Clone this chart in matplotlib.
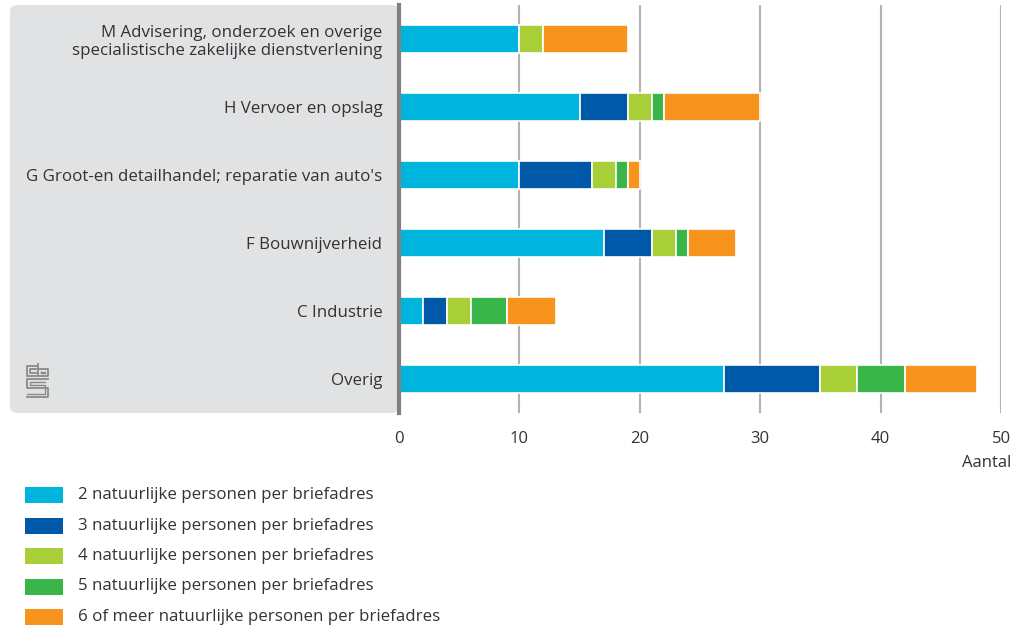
import matplotlib.pyplot as plt
from matplotlib.patches import FancyBboxPatch, Rectangle
import numpy as np

plt.rcParams['font.family'] = ['Open Sans', 'DejaVu Sans']

categories = ['M Advisering, onderzoek en overige\nspecialistische zakelijke dienstverlening',
              'H Vervoer en opslag',
              "G Groot-en detailhandel; reparatie van auto's",
              'F Bouwnijverheid',
              'C Industrie',
              'Overig']
series = ['2 natuurlijke personen per briefadres',
          '3 natuurlijke personen per briefadres',
          '4 natuurlijke personen per briefadres',
          '5 natuurlijke personen per briefadres',
          '6 of meer natuurlijke personen per briefadres']
p2 = [10, 15, 10, 17, 2, 27]
p3 = [0, 4, 6, 4, 2, 8]
p4 = [2, 2, 2, 2, 2, 3]
p5 = [0, 1, 1, 1, 3, 4]
p6 = [7, 8, 1, 4, 4, 6]
colors = ['#00b5dd', '#0058a8', '#a8cf38', '#3ab54a', '#f7941d']
xticks = [0, 10, 20, 30, 40, 50]

W, H = 1021, 628
fig = plt.figure(figsize=(W / 100, H / 100), dpi=100)

# grey label panel
panel = FancyBboxPatch((10 / W, 215 / H), (399 - 10) / W, (413 - 5) / H,
                       boxstyle='round,pad=0,rounding_size=0.009',
                       transform=fig.transFigure, facecolor='#e1e2e4',
                       edgecolor='none', zorder=-5)
fig.patches.append(panel)

ax = fig.add_axes([399 / W, 215 / H, (1001 - 399) / W, (413 - 5) / H])
ax.set_facecolor('none')

y = np.arange(len(categories))
left = np.zeros(len(categories))
for vals, c, name in zip([p2, p3, p4, p5, p6], colors, series):
    ax.barh(y, vals, left=left, height=0.4, color=c, edgecolor='white',
            linewidth=1.2, zorder=3, label=name)
    left += np.array(vals)

ax.set_ylim(len(categories) - 0.5, -0.5)
ax.set_xlim(0, 50)
ax.set_xticks(xticks)
ax.set_xticklabels([str(t) for t in xticks], fontsize=12, color='#333333')
ax.set_yticks(y)
ax.set_yticklabels(categories, fontsize=12.2, color='#333333', linespacing=1.2)
ax.tick_params(length=0, pad=12)
ax.tick_params(axis='x', pad=13)
ax.grid(axis='x', color='#b3b3b3', linewidth=1.5, zorder=1)
for s in ['top', 'right', 'bottom']:
    ax.spines[s].set_visible(False)
ax.spines['left'].set_color('#808080')
ax.spines['left'].set_linewidth(3)
ax.spines['left'].set_zorder(4)

fig.text(1011 / W, 1 - 463 / H, 'Aantal', ha='right', va='center',
         fontsize=12, color='#333333')

# legend
for i, (c, name) in enumerate(zip(colors, series)):
    yc = 495 + i * 30.5
    fig.patches.append(Rectangle((25 / W, 1 - (yc + 8) / H), 38 / W, 16 / H,
                                 transform=fig.transFigure, facecolor=c,
                                 edgecolor='none'))
    fig.text(78 / W, 1 - yc / H, name, ha='left', va='center',
             fontsize=12.2, color='#333333')

# simple cbs logo
logo = fig.add_axes([24 / W, 1 - 400 / H, 28 / W, 38 / H])
logo.set_xlim(0, 28)
logo.set_ylim(38, 0)
logo.axis('off')
g = '#8a8a8a'
logo.plot([12, 3, 3, 12], [4, 4, 14, 14], color=g, lw=1.3)
logo.plot([12, 6, 6, 12], [7, 7, 11, 11], color=g, lw=1.3)
logo.plot([14, 14, 24, 24, 14], [2, 14, 14, 7, 7], color=g, lw=1.3)
logo.plot([17, 21, 21, 17, 17], [10, 10, 11, 11, 10], color=g, lw=1.0)
logo.plot([24, 3, 3, 24, 24, 3], [17, 17, 26, 26, 35, 35], color=g, lw=1.3)
logo.plot([21, 6, 6, 21, 21, 3], [20, 20, 23, 23, 32, 32], color=g, lw=1.0)

fig.savefig('out.png', dpi=100)
